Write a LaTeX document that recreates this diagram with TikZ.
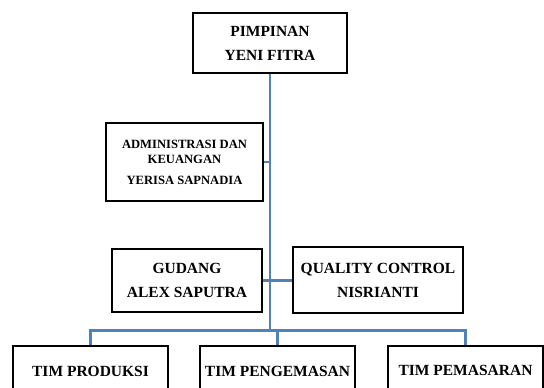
\documentclass[tikz,border=0pt]{standalone}
\usepackage{fontspec}
\setmainfont{Liberation Serif}
\usepackage{tikz}
\usetikzlibrary{
  positioning,
  calc
}
\definecolor{garisbiru}{RGB}{79,129,189}

\begin{document}
\begin{tikzpicture}[
    x=1pt,y=-1pt,
    kotak/.style={draw=black,line width=2.7pt,fill=white,align=center,
      inner sep=0pt,font=\fontsize{15.5pt}{24pt}\selectfont\bfseries},
    garis/.style={draw=garisbiru,line width=2.6pt}
    ]
    
    \useasboundingbox (0,0) rectangle (544,388);
    \clip (0,0) rectangle (544,388);
    
    \node[kotak,minimum width=154,minimum height=60] (pimpinan) at (270,43)
    {PIMPINAN\\YENI FITRA};
    
    \node[kotak,minimum width=157,minimum height=78,
    font=\fontsize{12.6pt}{15pt}\selectfont\bfseries] (admin) at (184.5,162)
    {ADMINISTRASI DAN\\KEUANGAN\\[6pt]YERISA SAPNADIA};
    
    \node[kotak,minimum width=150,minimum height=63] (gudang) at (187,280.5)
    {GUDANG\\ALEX SAPUTRA};
    
    \node[kotak,minimum width=170,minimum height=66] (qc) at (378,280)
    {QUALITY CONTROL\\NISRIANTI};
    
    \node[kotak,minimum width=155,minimum height=50] (produksi) at (90.5,371)
    {TIM PRODUKSI};
    \node[kotak,minimum width=155,minimum height=50] (pengemasan) at (277.5,371)
    {TIM PENGEMASAN};
    \node[kotak,minimum width=155,minimum height=48] (pemasaran) at (465.5,370)
    {TIM PEMASARAN};
    
    \coordinate (bus) at ($(pimpinan.south |- 0,330.5)$);
    
    \draw[garis] (pimpinan.south) -- (bus);
    \draw[garis] (admin.east) -- (admin.east -| pimpinan.south);
    \draw[garis] (gudang.east) -- (gudang.east -| qc.west);
    \draw[garis] (produksi.north) |- (bus) -| (pemasaran.north);
    \draw[garis] (pengemasan.north) -- (pengemasan.north |- bus);
    
\end{tikzpicture}
\end{document}
